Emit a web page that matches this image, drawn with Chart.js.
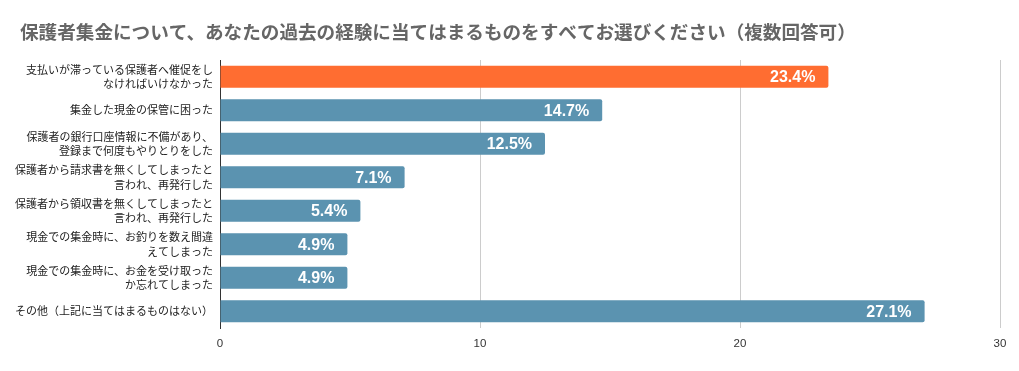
<!DOCTYPE html>
<html>
<head>
<meta charset="utf-8">
<script src="https://cdn.jsdelivr.net/npm/chart.js@4"></script>
<style>
  html, body { margin: 0; padding: 0; background: #fff; }
  #wrap { width: 1019px; height: 371px; position: relative; }
</style>
</head>
<body>
<div id="wrap"><canvas id="chart"></canvas></div>
<script>
// --- データ ---
const titleText = '保護者集金について、あなたの過去の経験に当てはまるものをすべてお選びください（複数回答可）';
const categories = [
    ['支払いが滞っている保護者へ催促をし', 'なければいけなかった'],
    '集金した現金の保管に困った',
    ['保護者の銀行口座情報に不備があり、', '登録まで何度もやりとりをした'],
    ['保護者から請求書を無くしてしまったと', '言われ、再発行した'],
    ['保護者から領収書を無くしてしまったと', '言われ、再発行した'],
    ['現金での集金時に、お釣りを数え間違', 'えてしまった'],
    ['現金での集金時に、お金を受け取った', 'か忘れてしまった'],
    'その他（上記に当てはまるものはない）'
];
const values = [23.4, 14.7, 12.5, 7.1, 5.4, 4.9, 4.9, 27.1];
const xTicks = [0, 10, 20, 30];

const jpFont = '"Noto Sans CJK JP", "Noto Sans", sans-serif';
const barColors = values.map((v, i) => i === 0 ? '#ff6d31' : '#5b93b0');

// タイトル描画
const titlePlugin = {
    id: 'customTitle',
    afterDraw(chart) {
        const c = chart.ctx;
        c.save();
        c.font = 'bold 18.6px ' + jpFont;
        c.fillStyle = '#666666';
        c.textBaseline = 'middle';
        c.textAlign = 'left';
        c.fillText(titleText, 20, 32);
        c.restore();
    }
};

// バー内のラベル
const valueLabels = {
    id: 'valueLabels',
    afterDatasetsDraw(chart) {
        const c = chart.ctx;
        const meta = chart.getDatasetMeta(0);
        c.save();
        c.font = 'bold 16px "Liberation Sans", Arial, sans-serif';
        c.fillStyle = '#ffffff';
        c.textAlign = 'right';
        c.textBaseline = 'middle';
        meta.data.forEach((bar, i) => {
            c.fillText(values[i].toFixed(1) + '%', bar.x - 13, bar.y + 1);
        });
        c.restore();
    }
};

new Chart(document.getElementById('chart'), {
    type: 'bar',
    data: {
        labels: categories,
        datasets: [{
            data: values,
            backgroundColor: barColors,
            borderRadius: 2,
            borderSkipped: 'start',
            barPercentage: 0.66,
            categoryPercentage: 1.0
        }]
    },
    options: {
        indexAxis: 'y',
        responsive: true,
        maintainAspectRatio: false,
        animation: false,
        layout: {
            padding: { top: 60, right: 19, bottom: 0, left: 0 }
        },
        plugins: {
            legend: { display: false },
            tooltip: { enabled: false },
            title: { display: false }
        },
        scales: {
            x: {
                min: 0,
                max: 30,
                afterBuildTicks(scale) {
                    scale.ticks = xTicks.map(v => ({ value: v }));
                },
                grid: {
                    color: (ctx) => ctx.tick && ctx.tick.value === 0 ? 'rgba(0,0,0,0)' : '#cccccc',
                    drawTicks: false
                },
                border: { display: false },
                ticks: {
                    color: '#333333',
                    font: { size: 11.5, family: '"Liberation Sans", Arial, sans-serif' },
                    padding: 9
                },
                afterFit(scale) { scale.height = 43; }
            },
            y: {
                grid: { display: false, drawTicks: false },
                border: { display: true, color: '#333333', width: 1 },
                ticks: {
                    color: '#222222',
                    font: { size: 11, family: jpFont, lineHeight: 1.35 },
                    padding: 7,
                    autoSkip: false
                },
                afterFit(scale) { scale.width = 220; }
            }
        }
    },
    plugins: [titlePlugin, valueLabels]
});
</script>
</body>
</html>
